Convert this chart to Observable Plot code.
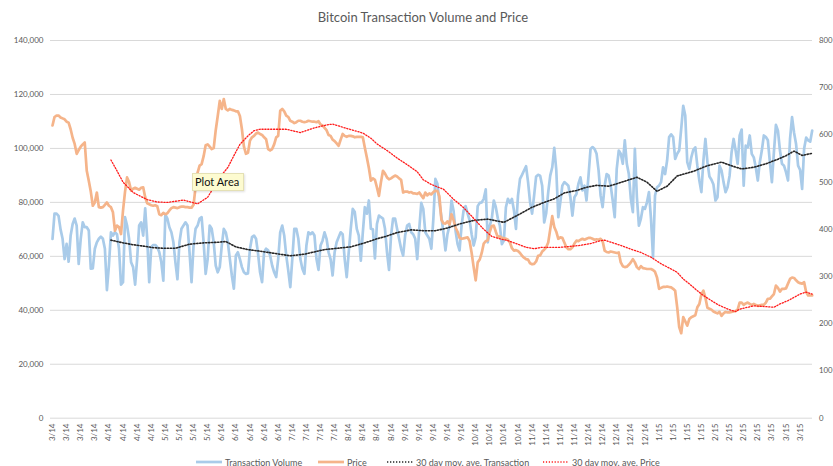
<!DOCTYPE html>
<html>
<head>
<meta charset="utf-8">
<script src="https://cdn.jsdelivr.net/npm/d3@7"></script>
<script src="https://cdn.jsdelivr.net/npm/@observablehq/plot@0.6"></script>
<style>
html,body{margin:0;padding:0;background:#fff;overflow:hidden;}
#wrap{position:relative;width:833px;height:466px;overflow:hidden;font-family:Lato,"Open Sans",sans-serif;color:#595959;background:#fff;}
#title{position:absolute;top:10.5px;left:0;width:846px;text-align:center;font-size:13px;line-height:1;color:#595959;z-index:2;}
#chart{position:absolute;top:0;left:0;}
.item{position:absolute;top:457.5px;font-size:9px;line-height:1;display:flex;align-items:center;white-space:nowrap;}
.item svg{margin-right:3px;}
#tip{position:absolute;left:191.7px;top:172.7px;width:48px;height:16px;padding-left:2.3px;background:#fdfbd0;border:1px solid #e4e0b4;box-shadow:1px 1px 2px rgba(0,0,0,0.12);font-size:11px;line-height:16px;color:#111;z-index:3;white-space:nowrap;}
</style>
</head>
<body>
<div id="wrap">
  <div id="title">Bitcoin Transaction Volume and Price</div>
  <div id="chart"></div>
  <div id="tip">Plot Area</div>
  <div id="legend"></div>
</div>
<script>
// ---- data (daily, starting Monday 2014-03-10) ----
const startDate = "2014-03-10";
// Transaction volume, thousands of transactions per day (one row = one week, Mon..Sun)
const volumeThousands = [
66.5,75.8,75.8,75,70,66.5,59,
64.6,58,67.7,72,74,71.4,57.2,
66.5,72.6,70.8,70.8,69.6,55.4,55.5,
62.8,65.2,66.5,67.3,66.5,62.8,47.5,
56.6,68.9,67.7,68.9,68.2,62.8,49.5,
50.4,74.5,71.4,66.5,57.8,56,49.5,
59,71.4,72.6,67.7,77.8,66.5,50.4,
63.4,64.2,64.2,63.4,61.5,57.8,51,
75.5,74,70.8,68.9,65.2,57.8,51.5,
65.2,70.2,71.4,72.6,71.4,61.5,50.4,
64,70.2,71.4,74,74.5,65.2,53.5,
59,71.4,70.2,65.2,56.6,54.1,56,
64,70.2,68.9,65.2,59,52.9,48,
60.3,61.5,59,56,54.1,53.5,53.7,
62.8,67.1,67.7,66.5,61,54.1,50.4,
61.5,62.8,62.2,60.3,56.6,54.1,52.3,
59,68.9,71.4,67.7,60.3,54.7,48.6,
59,70.2,70.2,66.5,59,55.4,53.5,
64,68.9,68.2,68.9,67.7,59,55,
64,65.8,68.9,66.5,61.5,59,52.9,
61.5,65.2,67.1,68.9,68.2,59,52.3,
61.5,70.2,77.6,76.4,70.2,67.7,58.4,
68.9,78.2,75.8,80.7,70.2,70,59.2,
72,75.1,74.5,74,70.2,61.5,55,
67.7,74,74,70.2,66.5,62.8,60.3,
67.7,71.4,72,68.9,68.2,66.5,59,
70.2,79.8,77.6,68.9,67.7,66.5,62.8,
73.9,88.7,86.9,80,74.5,68.9,62.2,
68.2,71.4,80.7,77,69.6,64.6,62.2,
71.4,77,78.6,75.8,73.3,68.2,64,
67,78.6,79.8,80,81.3,84.8,65.2,
71.4,74,80.7,78.2,74,71.4,64.5,
65.8,78.2,81.3,79.8,81.3,77,70.2,
82.5,88.7,90.2,91.8,93.4,87.5,80,
75.8,82.5,89.6,90.2,89.9,86.2,72.6,
76,83.8,89.9,93,100.2,92,74.5,
80,86.2,87.5,86.9,86.2,81.9,75.1,
81.9,83.1,86.9,89.3,84.4,86.2,80.7,
89.9,99.8,100.5,99.8,98,91.8,82.5,
78.2,86.2,90.5,89.9,86.2,80.7,74.5,
92.4,99.2,98,94.3,103,94.3,90.5,
81.3,76.4,99.8,82,71.4,74,78.2,
77.6,80,83.8,74,59.7,82.5,85.6,
86.2,87.5,93,90.5,95.5,104.2,105.2,
104.2,96.1,98,99.2,107.3,115.8,112.2,
94.9,92.4,96.7,99.5,100.4,93.6,88.1,
83.8,95.5,103.5,94.9,89.6,88.4,86.6,
80.7,81.9,93.6,91.8,87.5,83.8,85.6,
89.9,98.6,103.5,99.2,94.3,104.8,107,
86.2,101,100.4,104.8,98,96.7,93,
88.1,94.9,99.2,104.8,104.2,103,94.9,
87.5,98.6,108.7,106.6,99.2,94.3,93.6,
91.2,88.1,103.5,111.6,105.8,101.6,93.6,
92,85,100,104,103,102.5,106.6
];
// Bitcoin price, USD (one row = one week)
const priceUSD = [
620,638,641,641,637,635,633,
628,626,612,594,581,560,568,
575,580,584,524,503,480,450,
457,478,447,446,447,452,457,
450,447,436,397,408,405,390,
440,480,510,500,482,486,488,
486,484,488,489,468,455,453,
451,450,451,449,432,430,435,
432,434,440,445,447,446,445,
447,448,448,447,447,446,446,
452,490,520,535,538,555,578,
580,575,570,572,610,640,672,
655,676,655,652,655,653,652,
650,650,640,612,575,560,562,
588,595,598,603,605,602,600,
595,591,570,567,570,580,595,
598,651,655,650,641,638,630,
628,625,627,630,630,628,627,
628,630,629,628,628,627,629,
622,620,615,610,600,598,590,
587,582,577,590,602,598,596,
598,598,597,595,596,596,596,
595,573,552,530,503,508,505,
489,471,500,524,518,510,506,
508,511,514,512,508,505,478,
480,480,478,479,476,476,475,
478,472,466,478,472,476,474,
479,482,481,470,420,413,412,
417,410,432,420,404,395,382,
380,381,382,383,375,350,320,
292,330,336,350,370,375,377,
395,407,408,395,383,385,382,
381,380,378,372,360,355,356,
354,350,344,340,337,336,328,
326,327,332,344,345,353,357,
362,372,400,428,405,395,380,
383,382,372,362,358,358,362,
370,376,375,378,380,378,380,
382,382,380,378,379,378,380,
375,355,352,351,353,352,351,
350,351,330,322,320,321,325,
330,337,330,320,316,322,318,
317,316,316,316,314,310,298,
274,276,278,278,279,278,277,
274,270,235,193,180,214,205,
196,210,214,216,218,235,242,
262,270,255,234,232,230,226,
224,222,225,217,222,225,224,
224,225,226,227,230,245,245,
240,243,245,242,240,242,240,
238,239,240,240,245,253,253,
258,263,281,276,268,274,274,
275,285,295,298,297,292,288,
286,285,288,267,260,260,260
];
// 30 day moving average of transactions (day index from start, thousands)
const maVolumeDay = [29,35,40,45,50,55,61,68,75,82,86,91,97,104,111,118,125,135,148,155,161,165,171,178,184,190,196,202,209,216,224,232,238,244,249,254,260,265,270,276,280,285,290,295,300,305,310,318,325,332,338,342,348,354,360,364,368,372,377];
const maVolumeThousands = [66,65,64.3,63.8,63.2,63,63,64.5,65,65.2,65.5,63.5,62.5,61.8,61,60.2,60.8,62.5,63.5,65,66.5,67.3,68.8,69.8,69.5,69.5,70.5,72,73.3,73.8,72.6,75.7,78.2,80,81.3,83.5,84.4,85.6,86.3,86,86.9,88.1,89.3,87.5,84.1,86,89.8,91.5,93.6,94.9,93.3,92.4,93,94.3,96,97.3,99,97.4,98.2];
// 30 day moving average of price (day index from start, USD)
const maPriceDay = [29,32,35,40,47,52,57,65,72,77,80,83,87,90,93,97,100,103,110,116,123,130,136,139,145,154,158,161,166,171,176,181,184,188,194,199,204,208,211,214,218,222,226,230,235,239,243,252,262,267,272,274,282,287,292,297,302,307,310,313,317,320,323,327,330,333,337,339,341,348,355,358,361,365,368,371,374,377];
const maPriceUSD = [547,524,500,478,463,458,457,462,454,468,489,510,531,556,580,598,609,612,612,612,605,615,621,623,615,604,593,581,567,551,537,522,505,495,485,464,446,428,414,400,385,380,376,370,362,359,362,362,366,370,376,377,366,358,351,341,327,316,309,295,281,270,260,249,241,235,228,226,231,238,236,235,242,249,256,263,267,263];
// axes
const leftTicks = [0,20000,40000,60000,80000,100000,120000,140000];
const rightTicks = [0,100,200,300,400,500,600,700,800];
const seriesNames = ["Transaction Volume","Price","30 day mov. ave. Transaction","30 day mov. ave. Price"];
const seriesColors = ["#a9cbe9","#f5b48a","#262626","#ff1a1a"];

// ---- build ----
const DAY = 864e5;
const t0 = new Date(startDate + "T00:00:00Z").getTime();
const dayDate = i => new Date(t0 + i * DAY);
const priceToY = 140000 / 800; // secondary axis: 0..800 maps onto 0..140,000

const volumeRows = volumeThousands.map((v, i) => ({date: dayDate(i), y: v * 1000}));
const priceRows = priceUSD.map((v, i) => ({date: dayDate(i), y: v * priceToY}));
const maVolRows = maVolumeDay.map((d, i) => ({date: dayDate(d), y: maVolumeThousands[i] * 1000}));
const maPriceRows = maPriceDay.map((d, i) => ({date: dayDate(d), y: maPriceUSD[i] * priceToY}));
const lastDate = dayDate(volumeThousands.length - 1);
const mondays = d3.utcMonday.range(dayDate(0), lastDate);
const fmtX = d => `${d.getUTCMonth() + 1}/${String(d.getUTCFullYear()).slice(2)}`;
const dashBlack = "1.3,1.7";
const dashRed = "1.2,1.7";

const chart = Plot.plot({
  width: 833,
  height: 452,
  marginTop: 40, marginBottom: 34, marginLeft: 50, marginRight: 21,
  style: {fontFamily: "Lato, 'Open Sans', sans-serif", background: "transparent", overflow: "hidden"},
  x: {type: "utc", domain: [dayDate(0), lastDate], range: [52, 811.7]},
  y: {domain: [0, 140000], range: [417.7, 40]},
  marks: [
    Plot.gridY(leftTicks, {stroke: "#d9d9d9", strokeOpacity: 1, strokeWidth: 1}),
    Plot.axisY(leftTicks, {anchor: "left", tickSize: 0, tickPadding: 7, tickFormat: d3.format(","), fontSize: 8, color: "#595959", label: null}),
    Plot.axisY(rightTicks.map(v => v * priceToY), {anchor: "right", tickSize: 0, tickPadding: 6.5, tickFormat: v => String(Math.round(v / priceToY)), fontSize: 7.8, color: "#595959", label: null}),
    Plot.axisX(mondays, {anchor: "bottom", tickSize: 0, tickPadding: 5, tickRotate: -90, tickFormat: fmtX, fontSize: 8, color: "#595959", label: null}),
    Plot.lineY(volumeRows, {x: "date", y: "y", stroke: seriesColors[0], strokeWidth: 2.7, strokeLinejoin: "round"}),
    Plot.lineY(priceRows, {x: "date", y: "y", stroke: seriesColors[1], strokeWidth: 2.7, strokeLinejoin: "round"}),
    Plot.lineY(maVolRows, {x: "date", y: "y", stroke: seriesColors[2], strokeWidth: 1.6, strokeDasharray: dashBlack}),
    Plot.lineY(maPriceRows, {x: "date", y: "y", stroke: seriesColors[3], strokeWidth: 1.3, strokeDasharray: dashRed})
  ]
});
document.getElementById("chart").appendChild(chart);

// ---- legend ----
const legendLeft = [196, 318, 387, 543];
const legendDash = [null, null, dashBlack, dashRed];
const legendWidth = [2.7, 2.7, 1.6, 1.3];
const legend = document.getElementById("legend");
seriesNames.forEach((name, i) => {
  const item = document.createElement("div");
  item.className = "item";
  item.style.left = legendLeft[i] + "px";
  item.innerHTML = `<svg width="26" height="6"><line x1="0" x2="26" y1="3" y2="3" stroke="${seriesColors[i]}" stroke-width="${legendWidth[i]}" ${legendDash[i] ? `stroke-dasharray="${legendDash[i]}"` : ""}/></svg><span>${name}</span>`;
  legend.appendChild(item);
});
</script>
</body>
</html>
